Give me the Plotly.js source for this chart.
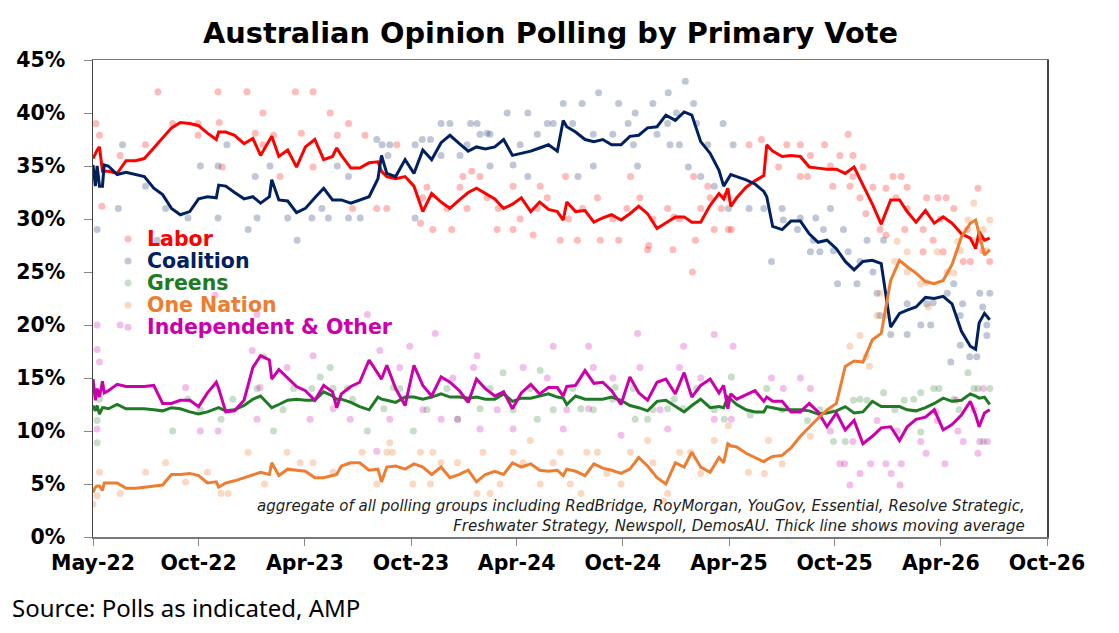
<!DOCTYPE html>
<html>
<head>
<meta charset="utf-8">
<script src="https://cdn.plot.ly/plotly-3.0.1.min.js"></script>
<style>
  html, body { margin: 0; padding: 0; background: #fff; }
  #chart { width: 1119px; height: 633px; }
</style>
</head>
<body>
<div id="chart"></div>
<script>
// moving average lines
const lineDates = [
  '2022-05-21','2022-05-25','2022-05-28','2022-06-01','2022-06-06','2022-06-09','2022-06-16','2022-07-01','2022-07-16','2022-08-01',
  '2022-08-16','2022-09-01','2022-09-16','2022-10-01','2022-10-16','2022-11-01','2022-11-16','2022-12-01','2022-12-16','2022-12-20',
  '2023-01-01','2023-01-16','2023-02-01','2023-02-16','2023-03-01','2023-03-16','2023-03-20','2023-04-01','2023-04-16','2023-05-01',
  '2023-05-16','2023-06-01','2023-06-16','2023-07-01','2023-07-08','2023-07-16','2023-08-01','2023-08-16','2023-09-01','2023-09-16',
  '2023-09-22','2023-10-01','2023-10-16','2023-11-01','2023-11-16','2023-12-01','2023-12-16','2024-01-01','2024-01-16','2024-02-01',
  '2024-02-16','2024-03-01','2024-03-16','2024-04-01','2024-04-16','2024-05-01','2024-05-16','2024-06-01','2024-06-16','2024-07-01',
  '2024-07-16','2024-07-26','2024-08-01','2024-08-16','2024-09-01','2024-09-16','2024-10-01','2024-10-16','2024-11-01','2024-11-16',
  '2024-12-01','2024-12-16','2025-01-01','2025-01-16','2025-02-01','2025-02-16','2025-03-01','2025-03-16','2025-04-01','2025-04-16',
  '2025-04-24','2025-05-01','2025-05-06','2025-05-16','2025-06-01','2025-06-16','2025-07-01','2025-07-06','2025-07-16','2025-08-01',
  '2025-08-16','2025-09-01','2025-09-16','2025-10-01','2025-10-16','2025-11-01','2025-11-16','2025-12-01','2025-12-16','2026-01-01',
  '2026-01-16','2026-02-01','2026-02-16','2026-03-01','2026-03-16','2026-04-01','2026-04-16','2026-05-01','2026-05-16','2026-06-01',
  '2026-06-16','2026-06-25','2026-07-01','2026-07-10','2026-07-19'
];
const laborAvg = [
  35.7,36.2,36.5,36.8,34.5,34.5,34.5,34.3,35.5,35.5, 35.7,36.7,37.7,38.6,39.1,39.0,38.8,38.1,37.5,38.2,
  38.2,37.9,37.1,37.6,36.0,37.5,37.8,35.9,36.5,34.9, 36.8,37.5,35.6,35.9,36.7,36.0,34.8,34.8,35.3,35.4,
  34.5,34.0,33.8,34.0,33.1,30.7,32.4,31.6,31.0,31.8, 32.5,32.9,32.4,31.9,31.0,31.4,32.0,30.7,31.6,30.9,
  30.7,29.9,31.6,30.7,30.8,29.7,30.1,30.4,29.9,30.5, 31.2,30.5,29.1,29.6,30.2,30.2,29.7,29.7,31.3,32.4,
  31.9,32.9,31.2,32.0,33.0,33.6,34.1,37.0,36.4,35.9, 36.0,35.9,34.9,34.8,34.7,34.7,34.3,34.9,33.2,31.4,
  29.5,31.8,31.8,30.7,29.7,30.8,29.6,30.2,29.6,28.6, 28.2,27.2,28.8,28.0,28.2
];
const coalitionAvg = [
  35.1,33.1,35.0,33.1,33.1,35.1,35.0,34.2,34.4,34.2, 34.0,32.9,32.3,31.0,30.4,30.7,31.9,32.1,32.0,33.2,
  33.1,32.5,31.9,32.1,31.5,32.1,33.7,31.8,31.7,30.6, 31.0,32.0,32.9,31.8,31.8,31.8,31.5,31.8,32.1,33.8,
  36.0,34.3,34.0,35.6,34.3,36.5,35.6,37.2,37.9,37.1, 36.4,36.8,36.6,36.8,37.5,36.0,36.2,36.4,36.7,37.0,
  36.4,39.3,38.7,38.2,37.5,37.3,37.5,37.0,37.0,37.8, 37.9,38.6,38.7,39.8,39.3,40.1,39.8,37.3,36.2,34.6,
  33.1,33.7,34.2,34.0,33.7,33.3,32.6,32.1,29.3,29.0, 29.8,29.8,28.6,27.8,28.0,27.2,26.0,25.2,26.0,26.1,
  25.8,19.8,21.1,21.4,21.7,22.6,22.5,22.7,22.0,19.4, 18.0,17.7,20.2,21.1,20.5
];
const greensAvg = [
  12.4,11.9,12.4,11.6,12.2,12.2,12.1,12.5,12.1,12.1, 12.1,12.0,11.9,12.2,12.1,11.8,11.6,11.8,12.1,12.2,
  11.9,12.0,12.4,13.0,13.3,12.4,12.2,12.5,12.9,13.0, 12.9,12.9,13.7,13.3,13.0,13.0,12.7,12.3,12.0,13.2,
  13.0,12.9,12.7,13.2,13.2,13.0,13.2,13.5,13.2,13.2, 13.1,13.2,13.0,13.0,13.5,12.8,13.1,13.1,13.3,13.5,
  13.2,13.1,12.5,13.3,13.0,13.0,13.0,13.2,12.9,12.4, 12.2,11.9,12.8,12.9,12.3,11.8,12.4,13.0,12.2,12.3,
  12.2,13.2,13.0,12.5,12.0,11.8,11.8,12.3,12.2,12.0, 12.0,12.0,11.9,11.6,11.7,11.9,12.3,11.7,11.8,12.8,
  12.3,12.3,12.3,12.0,11.9,12.2,12.6,13.1,12.8,12.9, 13.5,13.3,13.1,13.2,12.5
];
const oneNationAvg = [
  4.2,4.7,4.8,4.8,4.4,5.1,5.1,5.1,4.6,4.6, 4.7,4.8,4.9,5.9,5.9,6.0,5.8,5.1,5.2,4.7,
  5.1,5.3,5.6,5.9,6.1,5.9,7.0,5.8,6.4,6.3, 6.2,5.6,5.6,5.8,5.9,6.7,7.0,7.0,6.3,6.4,
  5.2,6.6,6.7,6.4,6.9,6.6,5.9,6.6,5.6,5.9, 6.3,5.2,5.9,6.2,5.9,7.0,6.6,6.9,6.3,6.2,
  6.3,5.8,6.4,6.2,5.8,6.9,6.5,6.3,6.0,6.4, 7.5,6.7,5.6,5.0,7.0,6.6,8.0,6.6,6.1,7.5,
  7.0,8.8,8.6,8.5,7.9,7.5,7.1,7.3,7.6,7.7, 8.4,9.5,10.4,11.2,12.0,12.6,16.1,16.6,16.5,18.6,
  19.2,24.2,26.1,25.5,24.9,24.1,23.9,24.2,25.7,28.3, 29.6,29.9,28.6,26.6,27.1
];
const otherAvg = [
  14.9,12.9,14.0,13.2,14.7,13.6,13.8,14.4,14.2,14.2, 14.2,14.3,12.6,12.6,12.9,12.9,12.3,13.6,14.6,14.0,
  11.8,11.9,12.9,16.0,17.1,16.7,14.9,15.8,15.0,14.2, 13.8,12.9,14.3,13.7,12.2,13.5,14.2,14.6,16.7,15.5,
  14.9,16.2,14.0,12.4,16.2,14.3,13.3,15.1,14.6,13.8, 12.7,14.9,14.0,13.3,13.7,12.1,13.6,14.4,13.5,14.1,
  14.1,13.3,14.2,14.3,15.7,14.5,14.6,13.8,12.5,15.1, 13.6,12.9,14.6,14.9,13.5,15.5,13.2,14.3,14.9,13.6,
  14.3,12.1,13.5,13.0,13.4,13.8,12.8,13.2,12.8,12.8, 11.8,11.8,12.6,11.8,10.4,11.7,10.1,11.0,8.8,9.5,
  10.3,10.4,9.1,10.4,11.1,11.3,12.0,10.1,10.6,11.5, 12.8,11.5,10.4,11.7,12.0
];

// individual polls (dots)
const laborPollDates = [
  '2022-05-26','2022-06-01','2022-06-05','2022-07-06','2022-08-18','2022-09-08','2022-10-03','2022-11-15','2022-11-15','2022-12-19',
  '2022-12-21','2022-12-26','2023-02-06','2023-02-20','2023-03-05','2023-03-05','2023-03-23','2023-04-03','2023-04-29','2023-05-09',
  '2023-05-29','2023-05-29','2023-06-27','2023-07-09','2023-07-28','2023-08-04','2023-08-25','2023-09-14','2023-10-01','2023-10-18',
  '2023-11-27','2023-12-01','2023-12-18','2024-01-11','2024-01-19','2024-02-07','2024-02-22','2024-03-07','2024-04-05','2024-05-02',
  '2024-05-02','2024-06-05','2024-06-17','2024-07-21','2024-07-30','2024-08-19','2024-09-27','2024-10-28','2024-11-17','2024-12-16',
  '2024-12-18','2025-01-28','2025-01-30','2025-03-02','2025-03-04','2025-03-07','2025-03-28','2025-04-08','2025-04-20','2025-04-25',
  '2025-05-02','2025-05-07','2025-06-06','2025-06-27','2025-07-26','2025-09-01','2025-09-01','2025-10-12','2025-10-26','2025-11-07',
  '2025-11-21','2025-11-24','2025-11-29','2025-12-11','2025-12-16','2025-12-21','2026-01-14','2026-01-24','2026-01-24','2026-02-05',
  '2026-02-10','2026-02-19','2026-02-25','2026-03-28','2026-03-28','2026-04-14','2026-04-22','2026-05-01','2026-05-06','2026-06-04',
  '2026-06-16','2026-06-29','2026-07-19',
  '2023-12-08','2024-02-02','2024-02-14','2024-03-19','2024-04-07','2024-05-14','2024-06-12','2024-06-29','2024-08-04','2024-08-28',
  '2024-09-22','2024-10-18','2024-11-11','2024-12-03','2024-12-25','2025-01-19','2025-02-08','2025-03-16','2025-04-01',
  '2025-08-09','2025-09-18','2025-10-22','2025-09-13','2025-11-29','2026-01-02','2026-03-01','2026-04-03','2026-05-19','2026-03-01',
  '2026-04-26','2026-06-11','2026-07-02','2026-07-07'
];
const laborPolls = [
  39.0,37.9,31.2,36.0,37.0,42.0,39.0,39.0,37.9,42.0, 39.1,34.9,42.0,38.1,40.0,37.0,37.9,34.0,42.0,38.1,
  42.0,34.9,40.0,37.9,39.0,31.0,37.9,31.0,31.0,37.0, 29.6,32.0,29.0,31.0,29.0,34.0,34.5,34.0,29.0,33.1,
  29.0,28.5,33.1,28.0,34.0,28.0,28.0,28.0,34.0,27.1, 27.5,27.1,30.2,25.0,34.0,28.0,33.1,29.0,31.0,32.1,
  29.0,29.0,37.0,37.5,34.9,37.0,34.0,37.0,33.1,36.0, 38.0,33.1,36.0,32.0,34.9,30.5,29.0,32.9,28.5,34.0,
  32.0,34.0,29.0,29.0,26.9,28.0,32.0,26.9,32.0,26.0, 26.0,32.9,26.0,
  33,33,31,32,31,30,31,32,30,31, 32,30,31,32,30,31,30,31,32,
  37,36,35,34,34,33,33,32,31,31, 30,29,28,27
];
const coalitionPollDates = [
  '2022-05-28','2022-07-03','2022-07-10','2022-08-18','2022-09-07','2022-09-21','2022-10-29','2022-11-19','2022-12-19','2022-12-19',
  '2023-01-03','2023-02-08','2023-02-20','2023-02-23','2023-03-17','2023-04-16','2023-05-02','2023-05-27','2023-06-13','2023-06-24',
  '2023-07-09','2023-07-28','2023-07-28','2023-08-17','2023-09-14','2023-09-23','2023-10-03','2023-10-06','2023-11-18','2024-01-01',
  '2024-01-16','2024-02-02','2024-03-02','2024-03-19','2024-03-24','2024-04-22','2024-05-02','2024-05-27','2024-05-27','2024-07-09',
  '2024-07-26','2024-08-20','2024-08-27','2024-09-15','2024-09-24','2024-10-28','2024-11-29','2024-12-25','2025-01-20','2025-01-23',
  '2025-02-18','2025-02-23','2025-03-04','2025-03-16','2025-04-08','2025-04-23','2025-05-02','2025-05-10','2025-06-06','2025-07-01',
  '2025-07-14','2025-08-01','2025-08-03','2025-09-01','2025-09-18','2025-09-27','2025-10-04','2025-10-10','2025-10-22','2025-11-03',
  '2025-11-13','2025-11-21','2025-12-06','2025-12-23','2026-01-09','2026-01-14','2026-01-20','2026-02-01','2026-03-01','2026-03-24',
  '2026-04-10','2026-04-14','2026-05-14','2026-05-19','2026-05-30','2026-05-30','2026-06-15','2026-06-27','2026-07-02','2026-07-07',
  '2026-07-14','2026-07-19',
  '2023-11-18','2023-11-30','2023-12-14','2024-01-01','2024-02-14','2024-03-07','2024-03-24','2024-02-20','2024-05-14','2024-06-12',
  '2024-06-29','2024-08-11','2024-09-15','2024-10-18','2024-11-13','2024-11-25','2024-11-22','2025-01-01','2025-01-19','2025-02-03',
  '2025-03-09','2025-03-28','2025-02-08',
  '2025-08-27','2025-09-23','2025-10-27','2025-12-11','2026-01-02','2026-03-01','2026-04-03','2026-05-08','2026-06-03','2026-07-14'
];
const coalitionPolls = [
  29.0,31.0,37.0,33.1,28.0,31.0,30.1,35.0,35.0,30.1, 37.0,29.0,34.0,30.1,35.0,30.1,28.0,30.1,31.0,30.1,
  35.0,34.0,30.1,30.1,37.5,37.0,36.0,37.0,30.1,39.0, 39.0,36.0,39.0,38.1,35.0,40.0,35.1,40.0,34.0,39.0,
  40.9,34.0,40.9,35.0,41.9,40.9,35.0,40.9,41.9,37.0, 43.0,34.9,40.9,34.0,33.1,39.0,31.0,37.0,31.0,31.0,
  26.0,31.0,29.9,30.1,26.9,30.1,26.9,29.0,31.0,23.9, 29.0,26.9,23.9,28.0,23.0,20.9,28.0,19.1,19.1,20.0,
  20.0,22.1,16.5,23.9,18.1,20.9,17.0,17.0,23.0,21.7, 19.0,23.0,
  37,37.5,37.5,36,37,38,38,39,37,38, 39,39,38,38,39,40,37,38,39,40, 39,37,37,
  29,28,27,26,25,22,22,23,22,20
];
const greensPollDates = [
  '2022-05-28','2022-05-28','2022-06-01','2022-10-03','2022-10-29','2022-12-24','2023-02-23','2023-03-06','2023-03-23','2023-04-26',
  '2023-05-27','2023-06-10','2023-06-27','2023-07-26','2023-08-29','2023-09-26','2023-10-12','2023-11-15','2024-01-29','2024-03-07',
  '2024-04-15','2024-06-12','2024-06-17','2024-08-25','2024-10-22','2024-11-25','2024-12-16','2025-01-19','2025-02-14','2025-04-25',
  '2025-05-07','2025-06-08','2025-07-06','2025-08-01','2025-09-13','2025-10-27','2025-11-16','2025-11-30','2025-12-23','2026-01-20',
  '2026-02-24','2026-03-24','2026-03-24','2026-04-24','2026-05-28','2026-06-12','2026-06-29','2026-07-08','2026-07-19',
  '2023-10-23','2023-12-08','2024-01-11','2024-02-14','2024-03-24','2024-05-02','2024-05-31','2024-07-09','2024-08-11','2024-09-15',
  '2024-10-18','2024-11-22','2024-12-25','2025-01-30','2025-03-09','2025-04-08',
  '2022-11-19','2023-01-13','2023-04-08','2023-07-02','2023-08-04',
  '2025-10-04','2025-12-11','2026-02-08','2026-03-12','2026-04-15','2026-05-19','2026-06-22'
];
const greensPolls = [
  8.9,11.0,13.0,10.0,13.0,11.1,14.0,17.0,10.0,14.0, 14.0,15.1,16.0,14.0,10.0,12.1,14.1,10.0,11.1,12.1,
  15.5,11.1,15.7,12.1,14.1,11.1,11.1,12.1,12.1,11.1, 15.1,11.5,14.0,12.0,11.0,9.0,9.0,12.9,12.9,13.6,
  12.9,13.6,9.9,14.0,12.0,15.5,14.0,9.0,14.0,
  14,12,14,13,14,12,14,12,14,12, 13,14,12,13,14,12,
  12,13,12,14,13,
  12,13,12,13,14,13,14
];
const oneNationPollDates = [
  '2022-05-21','2022-05-28','2022-06-01','2022-07-06','2022-08-18','2022-09-21','2022-10-25','2022-12-01','2022-12-24','2023-01-05',
  '2023-02-08','2023-03-08','2023-04-15','2023-05-07','2023-05-29','2023-07-02','2023-08-20','2023-09-14','2023-10-01','2023-10-06',
  '2023-11-27','2023-12-14','2024-01-01','2024-03-02','2024-03-24','2024-05-02','2024-05-31','2024-07-21','2024-08-07','2024-08-25',
  '2024-09-22','2024-11-01','2024-12-16','2025-01-12','2025-01-19','2025-02-27','2025-04-08','2025-05-02','2025-06-05','2025-07-02',
  '2025-07-09','2025-08-01','2025-09-18','2025-10-22','2025-11-24','2025-12-11','2025-12-21','2025-12-27','2026-01-09','2026-01-14',
  '2026-01-26','2026-02-12','2026-03-01','2026-03-24','2026-04-06','2026-04-21','2026-05-19','2026-05-26','2026-06-12','2026-06-22',
  '2026-07-08','2026-07-19',
  '2023-10-11','2023-11-14','2023-12-18','2024-01-29','2024-03-12','2024-04-10','2024-05-19','2024-06-17','2024-07-09','2024-09-04',
  '2024-10-08','2024-11-17','2024-12-25','2025-02-08','2025-03-16',
  '2026-02-08','2026-03-01','2026-04-03','2026-05-08','2026-05-30','2026-06-22','2026-07-14'
];
const oneNationPolls = [
  3.1,3.9,6.1,4.1,6.1,7.0,5.2,6.1,4.1,4.1, 8.0,5.0,8.0,7.0,7.0,6.1,8.0,5.0,8.0,8.9,
  8.0,5.0,7.0,4.1,4.1,8.0,9.1,8.0,5.0,4.1, 8.0,5.0,9.1,3.4,4.1,8.0,9.1,10.5,6.1,6.0,
  9.1,6.9,9.5,12.0,18.0,19.0,17.0,16.1,20.9,23.0, 20.9,27.9,26.9,23.9,21.7,26.9,24.9,27.9,29.9,31.5,
  29.0,29.9,
  8,5,8,7,8,5,7,5,7,8, 6,8,7,8,6,
  26,25,24,25,27,28,27
];
const otherPollDates = [
  '2022-05-28','2022-06-01','2022-05-28','2022-05-28','2022-07-06','2022-10-25','2022-11-19','2022-12-14','2022-12-19','2023-02-15',
  '2023-02-23','2023-02-23','2023-02-28','2023-04-15','2023-05-24','2023-05-29','2023-07-02','2023-07-31','2023-08-29','2023-09-14',
  '2023-09-19','2023-10-06','2023-11-09','2023-12-22','2024-01-01','2024-01-29','2024-03-02','2024-03-07','2024-05-02','2024-07-09',
  '2024-07-26','2024-09-07','2024-09-07','2024-11-01','2024-11-29','2025-01-19','2025-02-15','2025-04-08','2025-04-08','2025-05-07',
  '2025-05-10','2025-07-14','2025-08-03','2025-09-01','2025-09-18','2025-11-07','2025-11-15','2025-11-24','2025-12-11','2025-12-29',
  '2026-01-24','2026-02-02','2026-02-17','2026-02-19','2026-04-02','2026-04-19','2026-05-04','2026-05-23','2026-06-04','2026-06-29',
  '2026-07-08','2026-07-15',
  '2023-10-23','2023-12-01','2024-01-21','2024-02-25','2024-04-05','2024-05-19','2024-06-29','2024-08-01','2024-09-15','2024-10-18',
  '2024-12-03','2025-01-06','2025-02-08','2025-03-16',
  '2025-10-22','2025-11-29','2026-01-09','2026-02-12','2026-03-24','2026-04-21','2026-05-26','2026-07-02','2026-06-22'
];
const otherPolls = [
  17.7,16.5,10.2,20.0,20.0,14.1,10.0,22.8,10.0,17.6, 11.1,21.0,14.1,16.0,11.1,17.1,12.1,11.1,21.0,8.1,
  17.6,11.1,18.0,19.2,11.1,11.1,17.1,10.2,10.2,18.0, 10.2,18.0,12.1,9.6,19.2,10.2,18.0,19.1,11.1,11.1,
  18.0,15.0,14.0,15.0,14.0,6.9,6.9,4.9,6.0,6.9, 6.9,6.0,4.9,6.9,7.9,11.8,6.9,12.9,9.0,7.9,
  14.0,9.0,
  16,12,15,16,12,16,15,12,16,15, 16,12,16,15,
  10,9,11,10,9,11,10,9,12
];

const xTickText = ['May-22','Oct-22','Apr-23','Oct-23','Apr-24','Oct-24','Apr-25','Oct-25','Apr-26','Oct-26'];
const xStart = '2022-05-21';
const xEnd = '2026-10-24';

const parties = [
  { name: 'Labor', color: '#ff0000', dot: 'rgba(255,0,0,0.27)', avg: laborAvg, px: laborPollDates, py: laborPolls },
  { name: 'Coalition', color: '#002060', dot: 'rgba(0,32,96,0.25)', avg: coalitionAvg, px: coalitionPollDates, py: coalitionPolls },
  { name: 'Greens', color: '#1f7a24', dot: 'rgba(31,122,36,0.25)', avg: greensAvg, px: greensPollDates, py: greensPolls },
  { name: 'One Nation', color: '#ed7d31', dot: 'rgba(237,125,49,0.3)', avg: oneNationAvg, px: oneNationPollDates, py: oneNationPolls },
  { name: 'Independent &amp; Other', color: '#cc00aa', dot: 'rgba(204,0,170,0.25)', avg: otherAvg, px: otherPollDates, py: otherPolls }
];

const traces = [];

// poll dots first so the averages sit on top
for (const p of parties) {
  traces.push({
    x: p.px,
    y: p.py,
    type: 'scatter',
    mode: 'markers',
    marker: { color: p.dot, size: 7 },
    showlegend: false,
    hoverinfo: 'skip'
  });
}

const lineOrder = [2, 4, 0, 1, 3];
for (const i of lineOrder) {
  const p = parties[i];
  traces.push({
    x: lineDates,
    y: p.avg,
    type: 'scatter',
    mode: 'lines',
    line: { color: p.color, width: 3 },
    showlegend: false,
    hoverinfo: 'skip'
  });
}

// evenly spaced ticks across the axis, labelled as in the source chart
const t0 = new Date(xStart).getTime();
const t1 = new Date(xEnd).getTime();
const xTickVals = xTickText.map((_, i) => new Date(t0 + (t1 - t0) * i / (xTickText.length - 1)).toISOString().slice(0, 10));

const tickFont = { family: 'DejaVu Sans', size: 20.5, color: '#000', weight: 'bold' };

// legend drawn by hand: coloured names with a faint dot key, tighter rows than plotly's legend
const legendTop = 0.625;
const legendStep = 0.0463;
const annotations = [];
const shapes = [];
parties.forEach((p, i) => {
  const y = legendTop - i * legendStep;
  annotations.push({
    text: `<b>${p.name}</b>`,
    xref: 'paper', yref: 'paper',
    x: 0.0545, y: y,
    xanchor: 'left', yanchor: 'middle',
    showarrow: false,
    font: { family: 'DejaVu Sans', size: 20.5, color: p.color }
  });
  shapes.push({
    type: 'circle',
    xref: 'paper', yref: 'paper',
    xsizemode: 'pixel', ysizemode: 'pixel',
    xanchor: 0.0367, yanchor: y,
    x0: -3.5, x1: 3.5, y0: -3.5, y1: 3.5,
    fillcolor: p.dot,
    line: { width: 0 }
  });
});

annotations.push(
  {
    text: 'aggregate of all polling groups including RedBridge, RoyMorgan, YouGov, Essential, Resolve Strategic,<br>Freshwater Strategy, Newspoll, DemosAU. Thick line shows moving average',
    xref: 'paper', yref: 'paper',
    x: 0.979, y: 0.0,
    xanchor: 'right', yanchor: 'bottom',
    align: 'right',
    showarrow: false,
    font: { family: 'DejaVu Sans', size: 15, style: 'italic', color: '#222' }
  },
  {
    text: 'Source: Polls as indicated, AMP',
    xref: 'paper', yref: 'paper',
    x: -0.087, y: -0.147,
    xanchor: 'left', yanchor: 'middle',
    showarrow: false,
    font: { family: 'Noto Sans', size: 24, color: '#000' }
  }
);

const layout = {
  width: 1119,
  height: 633,
  margin: { t: 60, l: 93, r: 72, b: 96 },
  paper_bgcolor: '#fff',
  plot_bgcolor: '#fff',
  showlegend: false,
  title: {
    text: 'Australian Opinion Polling by Primary Vote',
    font: { family: 'DejaVu Sans', size: 28.8, color: '#000', weight: 'bold' },
    xref: 'container',
    x: 0.492,
    y: 0.948,
    yanchor: 'middle'
  },
  xaxis: {
    type: 'date',
    range: [xStart, xEnd],
    tickmode: 'array',
    tickvals: xTickVals,
    ticktext: xTickText,
    ticks: 'outside',
    ticklen: 7,
    tickcolor: '#888',
    showline: true,
    linecolor: '#777',
    linewidth: 1.5,
    mirror: true,
    showgrid: false,
    zeroline: false,
    tickfont: tickFont
  },
  yaxis: {
    range: [0, 45],
    tick0: 0,
    dtick: 5,
    ticksuffix: '%',
    ticks: 'outside',
    ticklen: 8,
    tickcolor: '#888',
    showline: true,
    linecolor: '#444',
    linewidth: 1.5,
    mirror: true,
    showgrid: false,
    zeroline: false,
    ticklabelstandoff: 14,
    tickfont: tickFont
  },
  annotations: annotations,
  shapes: shapes
};

Plotly.newPlot('chart', traces, layout, { displayModeBar: false, staticPlot: true });
</script>
</body>
</html>
